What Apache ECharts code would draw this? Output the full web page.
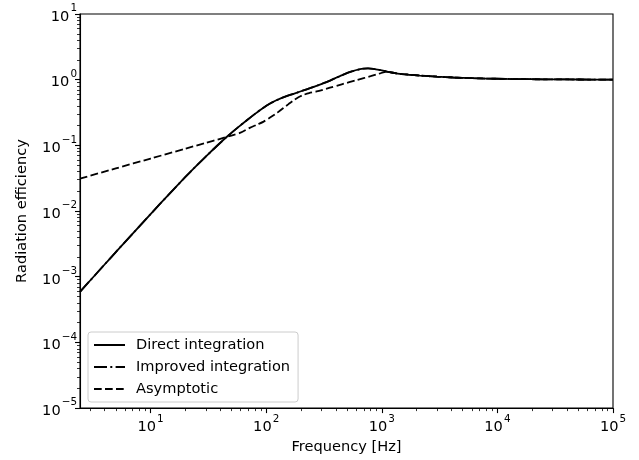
<!DOCTYPE html>
<html>
<head>
<meta charset="utf-8">
<script src="https://cdn.jsdelivr.net/npm/echarts@6/dist/echarts.min.js"></script>
<style>
  html, body { margin: 0; padding: 0; background: #fff; }
  #chart { width: 639px; height: 460px; }
</style>
</head>
<body>
<div id="chart"></div>
<script>
// Frequencies (Hz) and radiation efficiencies of the plate
const freqHz = [2.45, 3, 4, 5, 7, 10, 14, 20, 24, 30, 38, 47, 57, 68, 80, 94, 108, 120, 132, 146, 161, 185, 210, 239, 280, 344, 400, 465, 550, 647, 700, 760, 844, 950, 1100, 1250, 1436, 1700, 2140, 3000, 4150, 6000, 8070, 12000, 15700, 25000, 40000, 65000, 100000];
const directEff = [5.9e-4, 8.76e-4, 1.535e-3, 2.372e-3, 4.54e-3, 9.0e-3, 0.01706, 0.0330, 0.0458, 0.0675, 0.1004, 0.1411, 0.1877, 0.2412, 0.3017, 0.372, 0.4334, 0.4776, 0.5144, 0.551, 0.5854, 0.636, 0.687, 0.742, 0.82, 0.943, 1.064, 1.195, 1.335, 1.445, 1.478, 1.49, 1.465, 1.41, 1.33, 1.275, 1.225, 1.19, 1.155, 1.11, 1.08, 1.055, 1.04, 1.027, 1.02, 1.013, 1.008, 1.004, 1.0];
const improvedEff = [5.9e-4, 8.76e-4, 1.535e-3, 2.372e-3, 4.54e-3, 9.0e-3, 0.01706, 0.0330, 0.0458, 0.0675, 0.1004, 0.1411, 0.1877, 0.2412, 0.3017, 0.372, 0.4334, 0.4776, 0.5144, 0.551, 0.5854, 0.636, 0.687, 0.742, 0.82, 0.943, 1.064, 1.195, 1.335, 1.445, 1.478, 1.49, 1.465, 1.41, 1.33, 1.275, 1.225, 1.19, 1.155, 1.11, 1.08, 1.055, 1.04, 1.027, 1.02, 1.013, 1.008, 1.004, 1.0];

const asymFreqHz = [2.45, 5, 10, 20, 30, 40, 50, 60, 72, 85, 95, 108, 125, 141, 156, 171, 190, 209, 235, 273, 356, 450, 607, 800, 950, 1100, 1250, 1436, 1700, 2140, 3000, 4150, 6000, 8070, 12000, 15700, 25000, 40000, 65000, 100000];
const asymEff = [0.0312, 0.0446, 0.063, 0.089, 0.109, 0.126, 0.141, 0.156, 0.185, 0.21, 0.23, 0.265, 0.315, 0.37, 0.425, 0.48, 0.54, 0.585, 0.625, 0.661, 0.755, 0.85, 0.985, 1.13, 1.235, 1.33, 1.275, 1.225, 1.19, 1.155, 1.11, 1.08, 1.055, 1.04, 1.027, 1.02, 1.013, 1.008, 1.004, 1.0];

const xDecades = [1, 2, 3, 4, 5];
const yDecades = [-5, -4, -3, -2, -1, 0, 1];
const freqMin = 2.45, freqMax = 1e5;

const log10 = Math.log10;
const pairs = (xs, ys) => xs.map((x, i) => [log10(x), log10(ys[i])]);

// minor log ticks at 2..9 within each decade
function minorTicks(lo, hi) {
  const out = [];
  for (let d = Math.floor(lo) - 1; d <= Math.ceil(hi); d++) {
    for (let k = 2; k <= 9; k++) {
      const v = d + log10(k);
      if (v > lo && v < hi) out.push(v);
    }
  }
  return out;
}

const FONT = 'DejaVu Sans';
const FS = 14.6;
const powLabel = v => {
  const e = Math.round(v);
  const s = e < 0 ? '\u2212' + (-e) : String(e);
  return '{b|10}{e|' + s + '}';
};
const richLabel = {
  b: { fontFamily: FONT, fontSize: FS, color: '#000', lineHeight: 21, verticalAlign: 'bottom' },
  e: { fontFamily: FONT, fontSize: 10.4, color: '#000', lineHeight: 21, verticalAlign: 'top', padding: [0, 0, 0, 1] }
};

const xMinL = log10(freqMin), xMaxL = log10(freqMax);
const yMinL = -5, yMaxL = 1;

const chart = echarts.init(document.getElementById('chart'), null, { renderer: 'canvas' });

const gridBox = { left: 80, right: 26, top: 14, bottom: 51 };
const hiddenMarker = { color: 'transparent', borderColor: 'transparent', borderWidth: 0, opacity: 0 };

chart.setOption({
  animation: false,
  backgroundColor: '#fff',
  textStyle: { fontFamily: FONT },
  grid: Object.assign({ show: true, borderColor: '#000', borderWidth: 1.1, backgroundColor: 'transparent', containLabel: false }, gridBox),
  legend: {
    orient: 'vertical',
    left: 88,
    top: 332,
    padding: [5, 8, 5, 5],
    itemWidth: 31,
    itemHeight: 14,
    itemGap: 6,
    backgroundColor: 'rgba(255,255,255,0.8)',
    borderColor: '#cccccc',
    borderWidth: 1,
    borderRadius: 3,
    itemStyle: hiddenMarker,
    textStyle: { fontFamily: FONT, fontSize: FS, color: '#000', lineHeight: 16, padding: [0, 0, 0, 6] },
    data: ['Direct integration', 'Improved integration', 'Asymptotic']
  },
  xAxis: [
    {
      type: 'value', min: xMinL, max: xMaxL,
      name: 'Frequency [Hz]', nameLocation: 'middle', nameGap: 30,
      nameTextStyle: { fontFamily: FONT, fontSize: FS, color: '#000' },
      axisLine: { show: true, onZero: false, lineStyle: { color: '#000', width: 1.1 } },
      axisTick: { show: true, inside: false, length: 5, lineStyle: { color: '#000', width: 1.1 }, customValues: xDecades },
      axisLabel: { show: true, margin: 6, formatter: powLabel, rich: richLabel, customValues: xDecades },
      splitLine: { show: false }
    },
    {
      type: 'value', min: xMinL, max: xMaxL, position: 'bottom', gridIndex: 0,
      axisLine: { show: false, onZero: false },
      axisTick: { show: true, inside: false, length: 3, lineStyle: { color: '#000', width: 0.8 }, customValues: minorTicks(xMinL, xMaxL) },
      axisLabel: { show: false },
      splitLine: { show: false }
    }
  ],
  yAxis: [
    {
      type: 'value', min: yMinL, max: yMaxL, interval: 1,
      name: 'Radiation efficiency', nameLocation: 'middle', nameGap: 50, nameRotate: 90,
      nameTextStyle: { fontFamily: FONT, fontSize: FS, color: '#000' },
      axisLine: { show: true, onZero: false, lineStyle: { color: '#000', width: 1.1 } },
      axisTick: { show: true, inside: false, length: 5, lineStyle: { color: '#000', width: 1.1 }, customValues: yDecades },
      axisLabel: { show: true, margin: 3, formatter: powLabel, rich: richLabel, customValues: yDecades },
      splitLine: { show: false }
    },
    {
      type: 'value', min: yMinL, max: yMaxL, position: 'left', gridIndex: 0,
      axisLine: { show: false, onZero: false },
      axisTick: { show: true, inside: false, length: 3, lineStyle: { color: '#000', width: 0.8 }, customValues: minorTicks(yMinL, yMaxL) },
      axisLabel: { show: false },
      splitLine: { show: false }
    }
  ],
  series: [
    {
      name: 'Direct integration', type: 'line', smooth: 0.25, showSymbol: false, symbol: 'none',
      data: pairs(freqHz, directEff),
      lineStyle: { color: '#000', width: 1.8, type: 'solid' }, itemStyle: { color: '#000' }
    },
    {
      name: 'Improved integration', type: 'line', smooth: 0.25, showSymbol: false, symbol: 'none',
      data: pairs(freqHz, improvedEff),
      lineStyle: { color: '#000', width: 1.8, type: [13, 3.3, 2, 3.3] }, itemStyle: { color: '#000' }
    },
    {
      name: 'Asymptotic', type: 'line', smooth: 0.25, showSymbol: false, symbol: 'none',
      data: pairs(asymFreqHz, asymEff),
      lineStyle: { color: '#000', width: 1.8, type: [7.7, 3.3] }, itemStyle: { color: '#000' }
    }
  ]
});
</script>
</body>
</html>
